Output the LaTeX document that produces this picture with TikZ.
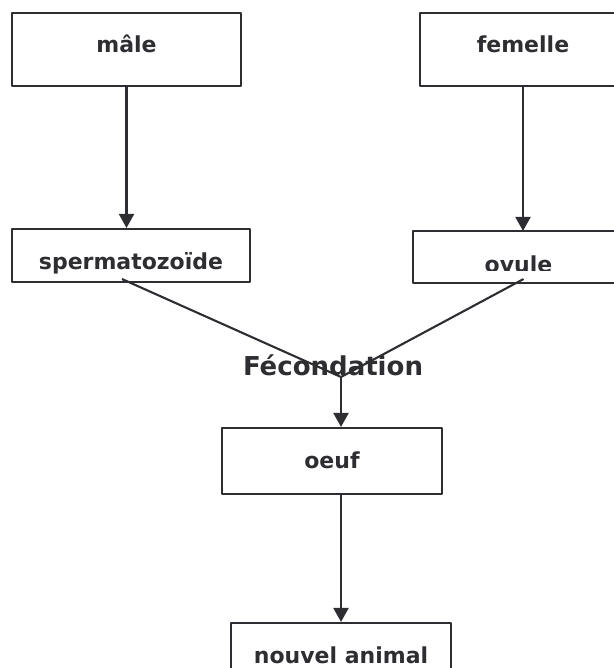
\documentclass[tikz,border=0pt]{standalone}
\usepackage{fontspec}
\setmainfont{DejaVu Sans}
\usetikzlibrary{arrows.meta}
\definecolor{trait}{RGB}{45,45,50}
\begin{document}
\begin{tikzpicture}[x=1pt,y=-1pt,line width=2.1pt,color=trait,line join=round,
	boite/.style={draw,rectangle,inner sep=0pt,font=\bfseries\fontsize{22}{24}\selectfont},
	bas/.style={text height=#1,text depth=0pt},
	fleche/.style={-{Triangle[width=15pt,length=14pt]}}]
			\useasboundingbox (0,0) rectangle (613,668);
			\node[boite,minimum width=229pt,minimum height=73pt,bas=7pt] (male) at (126.5,49.5) {mâle};
			\node[boite,minimum width=206pt,minimum height=73pt,bas=7pt] (femelle) at (523,49.5) {femelle};
			\node[boite,minimum width=238pt,minimum height=53pt,bas=27pt] (sperm) at (131,255.5) {spermatozoïde};
			\begin{scope}
				\clip (0,0) rectangle (613,270);
				\node[boite,draw=none,minimum width=209pt,minimum height=50pt,bas=30pt] (ovule) at (518.5,257) {ovule};
			\end{scope}
			\draw (ovule.south west) rectangle (ovule.north east);
			\node[boite,minimum width=220pt,minimum height=66pt,bas=14pt] (oeuf) at (332,461) {oeuf};
			\node[boite,minimum width=220pt,minimum height=66pt,bas=14pt] (animal) at (341,656) {nouvel animal};
			\node[font=\bfseries\fontsize{26}{30}\selectfont,anchor=base] (fec) at (333,375) {Fécondation};
			\coordinate (conv) at (341,377);
			\draw[fleche] (male.south) -- (male.south |- sperm.north);
			\draw[fleche] (femelle.south) -- (femelle.south |- ovule.north);
			\draw ([xshift=-9pt,yshift=4pt]sperm.south) -- (conv) -- ([xshift=5pt,yshift=4pt]ovule.south);
			\draw[fleche] (conv) -- (conv |- oeuf.north);
			\draw[fleche] (conv |- oeuf.south) -- (conv |- animal.north);
\end{tikzpicture}
\end{document}
